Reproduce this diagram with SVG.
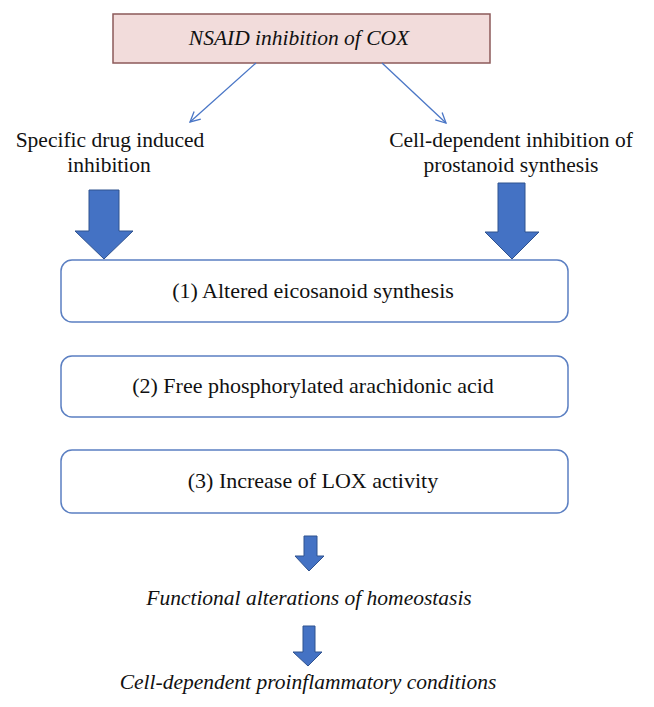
<svg xmlns="http://www.w3.org/2000/svg" width="654" height="707" viewBox="0 0 654 707">
<defs>
<style>
.t{font-family:"Liberation Serif","DejaVu Serif",serif;font-size:21.5px;fill:#111;text-anchor:middle}
.b{font-size:22px}
.i{font-style:italic}
.box{fill:#fff;stroke:#5b7fc2;stroke-width:1.5}
.blk{fill:#4472c4;stroke:#2f528f;stroke-width:1}
.thin{stroke:#4a76c6;stroke-width:1.3;fill:none}
</style>
<marker id="v" viewBox="0 0 12 12" refX="11" refY="6" markerWidth="12" markerHeight="12" markerUnits="userSpaceOnUse" orient="auto">
<path d="M1,1 L11,6 L1,11" fill="none" stroke="#4a76c6" stroke-width="1.3"/>
</marker>
</defs>
<rect width="654" height="707" fill="#fff"/>
<g id="nsaid">
<rect x="113" y="14" width="377" height="49" fill="#f2dcdb" stroke="#8c5a5a" stroke-width="1.5"/>
<text class="t i" x="299" y="45">NSAID inhibition of COX</text>
</g>
<g id="specific">
<text class="t" x="110" y="147">Specific drug induced</text>
<text class="t" x="109" y="172">inhibition</text>
</g>
<g id="celldep">
<text class="t" x="511" y="147">Cell-dependent inhibition of</text>
<text class="t" x="511" y="172">prostanoid synthesis</text>
</g>
<g id="box1">
<rect class="box" x="61" y="260" width="507" height="62" rx="11"/>
<text class="t b" x="313" y="298">(1) Altered eicosanoid synthesis</text>
</g>
<g id="box2">
<rect class="box" x="61" y="356" width="507" height="61" rx="11"/>
<text class="t b" x="313" y="393">(2) Free phosphorylated arachidonic acid</text>
</g>
<g id="box3">
<rect class="box" x="61" y="450" width="507" height="63" rx="11"/>
<text class="t b" x="313" y="488">(3) Increase of LOX activity</text>
</g>
<g id="functional">
<text class="t i" x="309" y="605">Functional alterations of homeostasis</text>
</g>
<g id="proinflam">
<text class="t i" x="308" y="689">Cell-dependent proinflammatory conditions</text>
</g>
<g id="connectors">
<line class="thin" x1="256" y1="63" x2="190" y2="122" marker-end="url(#v)"/>
<line class="thin" x1="382" y1="63" x2="446" y2="123" marker-end="url(#v)"/>
<polygon class="blk" points="89,190 119,190 119,231 133,231 104,259 75,231 89,231"/>
<polygon class="blk" points="498,183 525,183 525,232 539,232 512,259 485,232 498,232"/>
<polygon class="blk" points="304,536 317,536 317,556 324,556 309,571 295,556 304,556"/>
<polygon class="blk" points="303,626 315,626 315,652 322,652 308,666 293,652 303,652"/>
</g>
</svg>
